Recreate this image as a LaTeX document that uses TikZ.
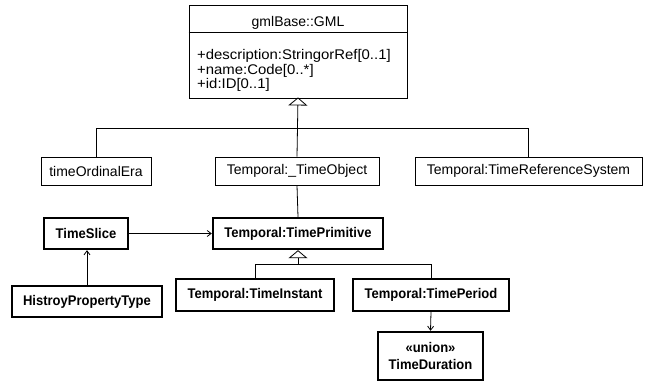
\documentclass[tikz,border=0pt]{standalone}
\usepackage{fontspec}
\setmainfont{Liberation Sans}
\newfontfamily\condbold{Liberation Sans}[FakeStretch=0.93]
\newfontfamily\widefont{Liberation Sans}[FakeStretch=1.065]
\usetikzlibrary{arrows.meta}

\begin{document}
\begin{tikzpicture}[x=1pt,y=-1pt,
  txt/.style={font=\fontsize{14}{16}\selectfont},
  attr/.style={anchor=base west, inner sep=0pt, font=\fontsize{14}{16}\selectfont\widefont},
  thinbox/.style={draw, line width=0.9pt, fill=white, inner sep=0pt, align=center, txt},
  boldbox/.style={draw, line width=2.4pt, fill=white, inner sep=0pt, align=center,
    font=\fontsize{14}{17}\selectfont\condbold\bfseries},
  link/.style={line width=0.8pt},
  assoc/.style={link, -{Straight Barb[length=4pt,width=6pt]}},
  inherit/.style={link, -{Triangle[open,length=8pt,width=19pt,line width=0.8pt]}},
]
\useasboundingbox (0,0) rectangle (651,382);

% base class with its attribute compartment
\node[thinbox, minimum width=218, minimum height=93] (gml) at (298,51.5) {};
\draw[line width=0.9pt] (gml.west |- 0,32) -- (gml.east |- 0,32);
\node[txt, anchor=base, inner sep=0pt] (gmlname) at (298,27) {gmlBase::GML};
\node[attr] (attdesc) at (197,60)   {+description:StringorRef[0..1]};
\node[attr] (attname) at (197,74.5) {+name:Code[0..*]};
\node[attr] (attid)   at (197,89)   {+id:ID[0..1]};

% first level subclasses
\node[thinbox, minimum width=110, minimum height=28] (era)  at (96,171)    {timeOrdinalEra};
\node[thinbox, minimum width=164, minimum height=28] (tobj) at (297,171)   {Temporal:\_TimeObject};
\node[thinbox, minimum width=227, minimum height=28] (trs)  at (528.5,171) {Temporal:TimeReferenceSystem};

% temporal classes
\node[boldbox, minimum width=84,  minimum height=31] (tslice) at (86,233.5)  {TimeSlice};
\node[boldbox, minimum width=170, minimum height=31] (tprim)  at (298,233.5) {Temporal:TimePrimitive};
\node[boldbox, minimum width=150, minimum height=31] (hpt)    at (87,301.5)  {HistroyPropertyType};
\node[boldbox, minimum width=158, minimum height=32] (tinst)  at (255,295)   {Temporal:TimeInstant};
\node[boldbox, minimum width=156, minimum height=32] (tper)   at (431,295)   {Temporal:TimePeriod};
\node[boldbox, minimum width=105, minimum height=48] (tdur)   at (430.5,356) {«union»\\TimeDuration};

% generalisation towards gmlBase::GML
\coordinate (busA) at (0,128);
\draw[inherit] (tobj.north) -- ([yshift=1pt]gml.south);
\draw[link] (era.north) -- (era.north |- busA) -- (trs.north |- busA) -- (trs.north);

% generalisation towards Temporal:TimePrimitive
\coordinate (busB) at (0,264);
\draw[inherit] (tprim.south |- busB) -- (tprim.south);
\draw[link] (tinst.north) -- (tinst.north |- busB) -- (tper.north |- busB) -- (tper.north);

% associations
\draw[link] (tobj.south) -- (tprim.north);
\draw[assoc] (tslice) -- (tprim);
\draw[assoc] (hpt.north) -- (hpt.north |- tslice.south);
\draw[assoc] (tper.south) -- (tdur.north);
\end{tikzpicture}
\end{document}
